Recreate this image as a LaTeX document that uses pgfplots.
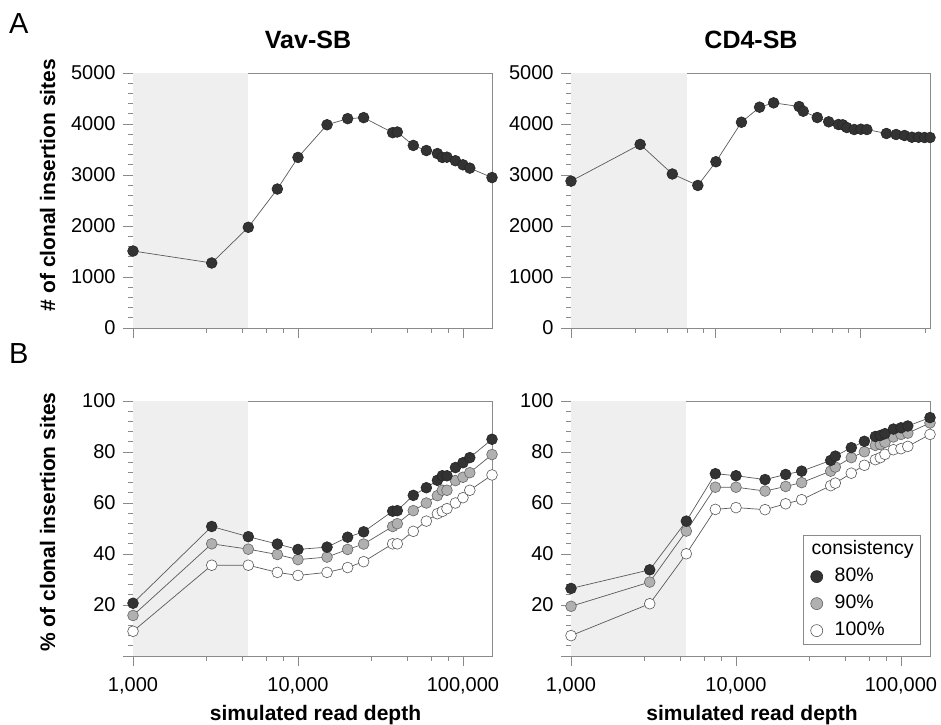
\documentclass[border=0pt]{standalone}
\usepackage{fontspec}
\setmainfont{Liberation Sans}
\usepackage{pgfplots}
\pgfplotsset{compat=1.18}
\definecolor{shade}{HTML}{EFEFEF}
\definecolor{dk}{HTML}{333333}
\definecolor{md}{HTML}{B0B0B0}
\definecolor{ln}{HTML}{5A5A5A}
\definecolor{ax}{HTML}{8A8A8A}
\pgfplotsset{
  myPanel/.style={
    scale only axis, width=359pt, height=255pt,
    xmin=1000, xmax=150000,
    axis line style={draw=ax, line width=0.9pt},
    tick style={draw=ax, line width=0.9pt},
    tick align=outside,
    major tick length=10pt, minor tick length=5pt,
    xtick pos=bottom, ytick pos=left,
    xtick={1000,10000,100000},
    minor xtick={2800,4600,6400,8200,28000,46000,64000,82000},
    xticklabels={},
    tick label style={font=\fontsize{20}{20}\selectfont, black},
    xticklabel style={yshift=-8pt},
    yticklabel style={xshift=-4pt},
    /pgf/number format/assume math mode=true,
    clip mode=individual,
  },
  myTop/.style={myPanel, ymin=0, ymax=5000, ytick={0,1000,2000,3000,4000,5000},
    yticklabels={0,1000,2000,3000,4000,5000}, minor y tick num=4},
  myBot/.style={myPanel, ymin=0, ymax=100, ytick={0,20,40,60,80,100},
    yticklabels={,20,40,60,80,100}, minor y tick num=4,
    xticklabels={{1,000},{10,000},{100,000}}},
  sA/.style={draw=ln, line width=0.7pt, mark=*, mark size=5.4pt, mark options={fill=dk, draw=black!85, line width=0.6pt, solid}},
  sB/.style={draw=ln, line width=0.7pt, mark=*, mark size=5.4pt, mark options={fill=md, draw=black!60, line width=0.6pt, solid}},
  sC/.style={draw=ln, line width=0.7pt, mark=*, mark size=5.4pt, mark options={fill=white, draw=black!65, line width=0.6pt, solid}},
}
\begin{document}
\begin{tikzpicture}
\useasboundingbox (0pt,0pt) rectangle (941pt,-724pt);
% ---------------- top left ----------------
\begin{axis}[xmode=log, myTop, at={(133pt,-73pt)}, anchor=north west]
\addplot[fill=shade, draw=none, forget plot] coordinates {(1000,0) (5000,0) (5000,5000) (1000,5000)};
\addplot[sA] coordinates {
(1000,1510) (3000,1275) (5000,1975) (7500,2725) (10000,3345) (15000,3985) (20000,4105) (25000,4125)
(37500,3830) (40000,3843) (50000,3580) (60000,3480) (70000,3420) (75000,3345) (80000,3350)
(90000,3280) (100000,3200) (110000,3135) (150000,2950)};
\end{axis}
% ---------------- top right ----------------
\begin{axis}[xmode=log, myTop, at={(571pt,-73pt)}, anchor=north west, xmax=300000,
  minor xtick={2800,4600,6400,8200,28000,46000,64000,82000,280000}]
\addplot[fill=shade, draw=none, forget plot] coordinates {(1000,0) (6310,0) (6310,5000) (1000,5000)};
\addplot[sA] coordinates {
(1000,2880) (3000,3600) (5000,3020) (7500,2795) (10000,3260) (15000,4035) (20000,4330) (25000,4415)
(37500,4343) (40000,4251) (50000,4127) (60000,4043) (70000,3990) (75000,3984) (80000,3931)
(90000,3892) (100000,3898) (110000,3892) (150000,3814) (175000,3794) (200000,3775)
(225000,3741) (250000,3741) (275000,3735) (300000,3735)};
\end{axis}
% ---------------- bottom left ----------------
\begin{axis}[xmode=log, myBot, at={(133pt,-401pt)}, anchor=north west]
\addplot[fill=shade, draw=none, forget plot] coordinates {(1000,0) (5000,0) (5000,100) (1000,100)};
\addplot[sC] coordinates {
(1000,9.7) (3000,35.6) (5000,35.6) (7500,32.8) (10000,31.6) (15000,32.8) (20000,34.7) (25000,37.0)
(37500,44.0) (40000,44.0) (50000,48.9) (60000,52.9) (70000,55.8) (75000,56.7) (80000,57.8)
(90000,60.0) (100000,62.1) (110000,65.0) (150000,71.0)};
\addplot[sB] coordinates {
(1000,15.9) (3000,44.0) (5000,41.9) (7500,39.8) (10000,37.8) (15000,38.8) (20000,41.8) (25000,43.9)
(37500,50.8) (40000,51.9) (50000,57.0) (60000,60.0) (70000,62.9) (75000,65.0) (80000,65.0)
(90000,68.8) (100000,70.1) (110000,71.9) (150000,79.0)};
\addplot[sA] coordinates {
(1000,20.7) (3000,50.8) (5000,46.8) (7500,43.9) (10000,41.8) (15000,42.7) (20000,46.6) (25000,48.7)
(37500,56.8) (40000,57.0) (50000,63.0) (60000,66.0) (70000,68.9) (75000,70.7) (80000,70.7)
(90000,73.9) (100000,75.8) (110000,77.8) (150000,85.0)};
\end{axis}
% ---------------- bottom right ----------------
\begin{axis}[xmode=log, myBot, at={(571pt,-401pt)}, anchor=north west,
  legend image code/.code={\draw[#1, only marks] plot coordinates {(5.5pt,0pt)};},
  legend cell align=left,
  legend style={at={(0.9749,0.0431)}, anchor=south east, draw=ax, line width=0.8pt, fill=white,
    font=\fontsize{19.5}{20}\selectfont, inner xsep=7pt, inner ysep=5pt, row sep=9pt, column sep=12pt,
    nodes={inner sep=0pt, text height=14pt, text depth=4pt}}]
\addlegendimage{empty legend}\addlegendentry{\hspace*{-23pt}consistency}
\addlegendimage{sA, mark size=6pt}\addlegendentry{80\%}
\addlegendimage{sB, mark size=6pt}\addlegendentry{90\%}
\addlegendimage{sC, mark size=6pt}\addlegendentry{100\%}
\addplot[fill=shade, draw=none, forget plot] coordinates {(1000,0) (5000,0) (5000,100) (1000,100)};
\addplot[sC, forget plot] coordinates {
(1000,8.0) (3000,20.5) (5000,40.1) (7500,57.5) (10000,58.2) (15000,57.4) (20000,59.7) (25000,61.3)
(37500,66.8) (40000,67.8) (50000,71.7) (60000,74.8) (70000,77.0) (75000,77.8) (80000,79.1)
(90000,80.9) (100000,81.3) (110000,82.2) (150000,86.9)};
\addplot[sB, forget plot] coordinates {
(1000,19.5) (3000,29.0) (5000,49.0) (7500,66.2) (10000,66.2) (15000,64.7) (20000,66.5) (25000,68.0)
(37500,72.5) (40000,74.1) (50000,77.8) (60000,80.1) (70000,82.6) (75000,83.0) (80000,83.8)
(90000,85.9) (100000,86.9) (110000,87.4) (150000,91.4)};
\addplot[sA, forget plot] coordinates {
(1000,26.5) (3000,33.8) (5000,52.9) (7500,71.5) (10000,70.7) (15000,69.2) (20000,71.2) (25000,72.5)
(37500,76.7) (40000,78.4) (50000,81.7) (60000,84.2) (70000,86.1) (75000,86.5) (80000,87.2)
(90000,89.0) (100000,89.5) (110000,90.2) (150000,93.5)};
\end{axis}
% ---------------- texts ----------------
\node[anchor=base west, inner sep=0pt] at (9pt,-33pt) {\fontsize{29}{29}\selectfont A};
\node[anchor=base west, inner sep=0pt] at (9pt,-363pt) {\fontsize{29}{29}\selectfont B};
\node[anchor=base, inner sep=0pt] at (308pt,-48.3pt) {\fontsize{25}{25}\selectfont\bfseries Vav-SB};
\node[anchor=base, inner sep=0pt] at (751pt,-48.3pt) {\fontsize{25}{25}\selectfont\bfseries CD4-SB};
\node[anchor=base, inner sep=0pt] at (315.5pt,-720pt) {\fontsize{21}{21}\selectfont\bfseries simulated read depth};
\node[anchor=base, inner sep=0pt] at (752pt,-720pt) {\fontsize{21}{21}\selectfont\bfseries simulated read depth};
\node[anchor=base, inner sep=0pt, rotate=90] at (55pt,-185pt) {\fontsize{21}{21}\selectfont\bfseries \# of clonal insertion sites};
\node[anchor=base, inner sep=0pt, rotate=90] at (55pt,-522pt) {\fontsize{21}{21}\selectfont\bfseries \% of clonal insertion sites};
\end{tikzpicture}
\end{document}
